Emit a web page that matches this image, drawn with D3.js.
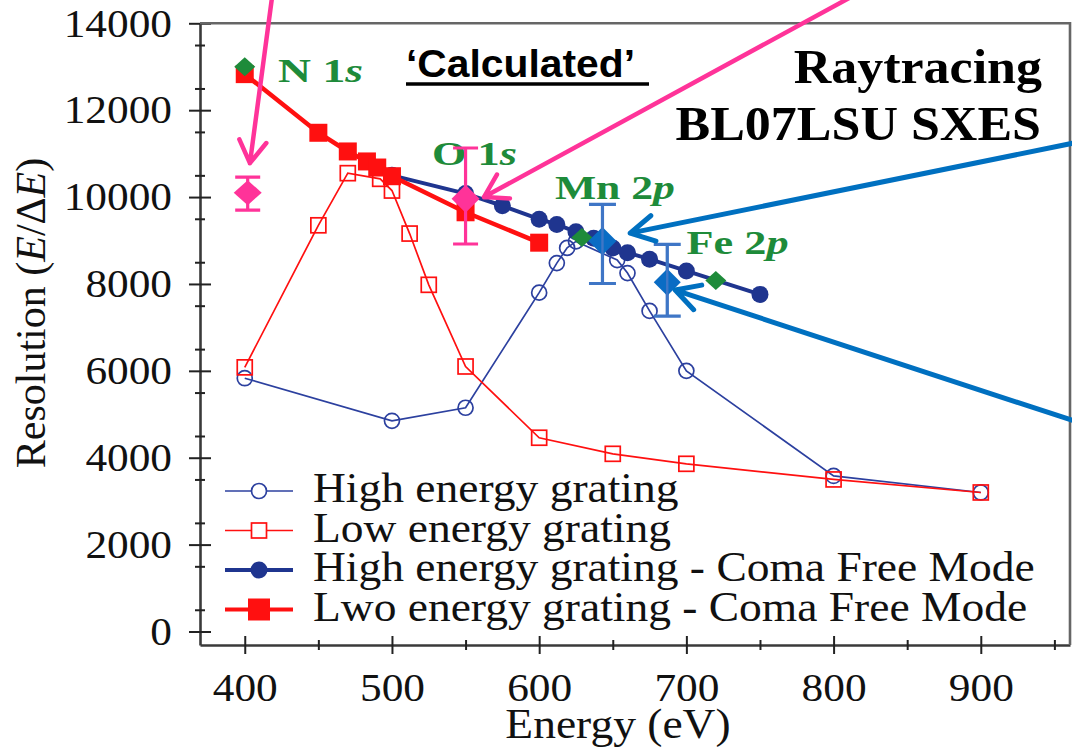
<!DOCTYPE html>
<html>
<head>
<meta charset="utf-8">
<script src="https://cdn.jsdelivr.net/npm/d3@7"></script>
<style>
  html, body { margin: 0; padding: 0; background: #fff; }
  svg { display: block; font-family: "Liberation Serif", "Times New Roman", Times, serif; }
</style>
</head>
<body>
<svg id="chart" width="1072" height="752"></svg>
<script>
// ---- data (energy in eV, resolution E/dE) ----
const highGratingE = [400, 500, 550, 600, 612, 619, 625, 653, 660, 675, 700, 800, 900];
const highGratingR = [5830, 4850, 5150, 7800, 8480, 8830, 8980, 8550, 8250, 7380, 6000, 3580, 3200];

const lowGratingE = [400, 450, 470, 492, 500, 512, 525, 550, 600, 650, 700, 800, 900];
const lowGratingR = [6080, 9350, 10550, 10420, 10150, 9160, 7980, 6100, 4460, 4090, 3860, 3500, 3200];

const highComaE = [500, 550, 575, 600, 612, 625, 637, 650, 660, 675, 700, 750];
const highComaR = [10500, 10080, 9800, 9490, 9370, 9200, 9050, 8830, 8720, 8570, 8300, 7760];

const lowComaE = [400, 450, 470, 483, 490, 500, 550, 600];
const lowComaR = [12830, 11480, 11050, 10820, 10680, 10480, 9650, 8950];

// calculated edges (green)
const edgeE = [400, 629, 720];
const edgeR = [13000, 9070, 8080];

// measured points with error bars
const measuredPinkE = [402, 550];
const measuredPinkR = [10100, 9960];
const measuredPinkLo = [9700, 8920];
const measuredPinkHi = [10460, 11130];

const measuredBlueE = [643, 687];
const measuredBlueR = [8990, 8040];
const measuredBlueLo = [8010, 7260];
const measuredBlueHi = [9830, 8910];

const xTicks = [400, 500, 600, 700, 800, 900];
const xMinorTicks = [450, 550, 650, 750, 850, 950];
const yTicks = [0, 2000, 4000, 6000, 8000, 10000, 12000, 14000];
const yMinorTicks = d3.range(500, 14000, 1000);

const legendLabels = [
  "High energy grating",
  "Low energy grating",
  "High energy grating - Coma Free Mode",
  "Lwo energy grating - Coma Free Mode"
];

// edge labels: [text, italic part, energy, resolution at baseline]
const edgeLabels = [
  ["N 1", "s", 422.6, 12660],
  ["O 1", "s", 527.2, 10740],
  ["Mn 2", "p", 610.7, 9950],
  ["Fe 2", "p", 700.1, 8700]
];
const edgeLabelWidths = [85, 85, 120, 102];

// arrows in data units: from -> to
const pinkArrows = [
  { from: [418.5, 14590], to: [403.5, 10780] },
  { from: [811, 14590], to: [562.5, 10000] }
];
const blueArrows = [
  { from: [964, 11250], to: [661.8, 9170] },
  { from: [964, 4840], to: [692.4, 7860] }
];

// ---- colours ----
const navyOpen = "#2c409f";
const navy = "#1f358f";
const red = "#ff1010";
const pink = "#ff3399";
const blue = "#0a6cc4";
const blueBar = "#3f76c6";
const green = "#1e8b3a";
const STRETCH = 1.083; // the figure is slightly wider than tall
const SERIF = "Liberation Serif, Times New Roman, Times, serif";

const svg = d3.select("#chart");

const x = d3.scaleLinear().domain([369.6, 960.6]).range([200, 1070]);
const y = d3.scaleLinear().domain([-311, 14000]).range([645, 23.3]);

const stretchText = (sel) =>
  sel.each(function () {
    const w = this.getComputedTextLength();
    d3.select(this).attr("textLength", w * STRETCH).attr("lengthAdjust", "spacingAndGlyphs");
  });

const zip = (es, rs) => es.map((e, i) => [e, rs[i]]);
const line = d3.line().x((d) => x(d[0])).y((d) => y(d[1]));
const diamond = (cx, cy, hw, hh) =>
  `M${cx},${cy - hh}L${cx + hw},${cy}L${cx},${cy + hh}L${cx - hw},${cy}Z`;

// ---- axes ----
const yAxis = svg.append("g").attr("transform", "translate(200,0)")
  .call(d3.axisLeft(y).tickValues(yTicks).tickFormat(d3.format("d"))
    .tickSize(11).tickSizeOuter(0).tickPadding(17));
const yMinor = svg.append("g").attr("transform", "translate(200,0)")
  .call(d3.axisLeft(y).tickValues(yMinorTicks).tickSize(5).tickSizeOuter(0).tickFormat(""));
const xAxis = svg.append("g").attr("transform", "translate(0,645)")
  .call(d3.axisBottom(x).tickValues(xTicks).tickFormat(d3.format("d"))
    .tickSize(9).tickSizeOuter(0).tickPadding(19));
const xMinor = svg.append("g").attr("transform", "translate(0,645)")
  .call(d3.axisBottom(x).tickValues(xMinorTicks).tickSize(5).tickSizeOuter(0).tickFormat(""));

yAxis.selectAll(".tick line").attr("x1", 11);
yMinor.selectAll(".tick line").attr("x1", 5);
xAxis.selectAll(".tick line").attr("y1", -9);
xMinor.selectAll(".tick line").attr("y1", -5);

[yAxis, yMinor, xAxis, xMinor].forEach((g) => {
  g.attr("font-family", SERIF);
  g.selectAll("path.domain").attr("stroke", "#3a3a3a").attr("stroke-width", 2.6);
  g.selectAll(".tick line").attr("stroke", "#222").attr("stroke-width", 2);
  g.selectAll(".tick text")
    .attr("font-size", 40)
    .attr("fill", "#111")
    .call(stretchText);
});
yMinor.select("path.domain").remove();
xMinor.select("path.domain").remove();

// frame (top and right)
svg.append("path")
  .attr("d", `M200,${y(14000)}H${x(960.6)}V645`)
  .attr("fill", "none")
  .attr("stroke", "#666")
  .attr("stroke-width", 2.6);

// axis titles
svg.append("text")
  .attr("x", 618).attr("y", 738)
  .attr("text-anchor", "middle")
  .attr("font-size", 42)
  .attr("fill", "#111")
  .text("Energy (eV)")
  .call(stretchText);

const yTitle = svg.append("text")
  .attr("transform", "translate(45,313) rotate(-90)")
  .attr("text-anchor", "middle")
  .attr("font-size", 42)
  .attr("fill", "#111");
yTitle.append("tspan").text("Resolution (");
yTitle.append("tspan").attr("font-style", "italic").text("E");
yTitle.append("tspan").text("/\u0394");
yTitle.append("tspan").attr("font-style", "italic").text("E");
yTitle.append("tspan").text(")");

// ---- open series ----
const highGrating = zip(highGratingE, highGratingR);
const lowGrating = zip(lowGratingE, lowGratingR);
const highComa = zip(highComaE, highComaR);
const lowComa = zip(lowComaE, lowComaR);

svg.append("path").attr("d", line(highGrating))
  .attr("fill", "none").attr("stroke", navyOpen).attr("stroke-width", 1.7);
svg.append("g").selectAll("circle").data(highGrating).join("circle")
  .attr("cx", (d) => x(d[0])).attr("cy", (d) => y(d[1])).attr("r", 7.5)
  .attr("fill", "none").attr("stroke", navyOpen).attr("stroke-width", 1.7);

svg.append("path").attr("d", line(lowGrating))
  .attr("fill", "none").attr("stroke", red).attr("stroke-width", 1.7);
svg.append("g").selectAll("rect").data(lowGrating).join("rect")
  .attr("x", (d) => x(d[0]) - 7.5).attr("y", (d) => y(d[1]) - 7.5)
  .attr("width", 15).attr("height", 15)
  .attr("fill", "none").attr("stroke", red).attr("stroke-width", 1.7);

// ---- coma free series ----
svg.append("path").attr("d", line(highComa))
  .attr("fill", "none").attr("stroke", navy).attr("stroke-width", 4);
svg.append("g").selectAll("circle").data(highComa).join("circle")
  .attr("cx", (d) => x(d[0])).attr("cy", (d) => y(d[1])).attr("r", 8.5)
  .attr("fill", navy);

svg.append("path").attr("d", line(lowComa))
  .attr("fill", "none").attr("stroke", red).attr("stroke-width", 4.5);
svg.append("g").selectAll("rect").data(lowComa).join("rect")
  .attr("x", (d) => x(d[0]) - 9).attr("y", (d) => y(d[1]) - 9)
  .attr("width", 18).attr("height", 18)
  .attr("fill", red);

// green calculated edges
svg.append("g").selectAll("path").data(zip(edgeE, edgeR)).join("path")
  .attr("d", (d) => diamond(x(d[0]), y(d[1]), 10.5, 9.5))
  .attr("fill", green);

// edge labels
edgeLabels.forEach(([main, ital, e, r], i) => {
  const t = svg.append("text")
    .attr("x", x(e)).attr("y", y(r))
    .attr("font-size", 33).attr("font-weight", "bold").attr("fill", green)
    .attr("textLength", edgeLabelWidths[i]).attr("lengthAdjust", "spacingAndGlyphs");
  t.append("tspan").text(main);
  t.append("tspan").attr("font-style", "italic").text(ital);
});

// ---- measured points with error bars ----
function errorPoints(es, rs, lo, hi, color, barColor, cap, hw, hh) {
  const g = svg.append("g");
  es.forEach((e, i) => {
    const cx = x(e);
    g.append("path")
      .attr("d", `M${cx},${y(lo[i])}V${y(hi[i])}M${cx - cap / 2},${y(lo[i])}h${cap}M${cx - cap / 2},${y(hi[i])}h${cap}`)
      .attr("fill", "none").attr("stroke", barColor).attr("stroke-width", 3.2);
    g.append("path")
      .attr("d", diamond(cx, y(rs[i]), hw[i], hh[i]))
      .attr("fill", color);
  });
}
errorPoints(measuredPinkE, measuredPinkR, measuredPinkLo, measuredPinkHi, pink, pink, 25, [14, 14], [12.5, 14]);
errorPoints(measuredBlueE, measuredBlueR, measuredBlueLo, measuredBlueHi, blue, blueBar, 27, [14, 13.5], [14, 13.5]);
// the blue bars show through their diamonds in the figure
measuredBlueE.forEach((e, i) => {
  svg.append("line")
    .attr("x1", x(e)).attr("x2", x(e))
    .attr("y1", y(measuredBlueLo[i])).attr("y2", y(measuredBlueHi[i]))
    .attr("stroke", blueBar).attr("stroke-width", 2.4);
});

// ---- arrows ----
function drawArrow(a, color, width, L, theta) {
  const x0 = x(a.from[0]), y0 = y(a.from[1]);
  const x1 = x(a.to[0]), y1 = y(a.to[1]);
  const ang = Math.atan2(y0 - y1, x0 - x1);
  const w1 = [x1 + L * Math.cos(ang + theta), y1 + L * Math.sin(ang + theta)];
  const w2 = [x1 + L * Math.cos(ang - theta), y1 + L * Math.sin(ang - theta)];
  svg.append("path")
    .attr("d", `M${x0},${y0}L${x1},${y1}M${w1[0]},${w1[1]}L${x1},${y1}L${w2[0]},${w2[1]}`)
    .attr("fill", "none").attr("stroke", color).attr("stroke-width", width)
    .attr("stroke-linecap", "round").attr("stroke-linejoin", "round");
}
pinkArrows.forEach((a) => drawArrow(a, pink, 4.5, 26, 0.55));
blueArrows.forEach((a) => drawArrow(a, "#0070c0", 5, 27, 0.5));

// ---- headline texts ----
svg.append("text")
  .attr("x", 406).attr("y", 77)
  .attr("font-family", "Liberation Sans Narrow, Liberation Sans, sans-serif")
  .attr("font-size", 38).attr("font-weight", "bold").attr("fill", "#000")
  .attr("textLength", 229).attr("lengthAdjust", "spacingAndGlyphs")
  .text("\u2018Calculated\u2019");
svg.append("line")
  .attr("x1", 406).attr("x2", 649).attr("y1", 84).attr("y2", 84)
  .attr("stroke", "#000").attr("stroke-width", 3.5);

svg.append("text")
  .attr("x", 1042).attr("y", 83)
  .attr("text-anchor", "end")
  .attr("font-size", 48).attr("font-weight", "bold").attr("fill", "#000")
  .text("Raytracing")
  .call(stretchText);
svg.append("text")
  .attr("x", 1041).attr("y", 140)
  .attr("text-anchor", "end")
  .attr("font-size", 48).attr("font-weight", "bold").attr("fill", "#000")
  .text("BL07LSU SXES")
  .call(stretchText);

// ---- legend ----
const legendRowY = [491, 530.5, 570, 609.5];
const legend = svg.append("g");
legendLabels.forEach((label, i) => {
  const cy = legendRowY[i];
  const row = legend.append("g");
  const coma = i >= 2;
  const color = i % 2 === 0 ? (coma ? navy : navyOpen) : red;
  row.append("line")
    .attr("x1", 225).attr("x2", 293).attr("y1", cy).attr("y2", cy)
    .attr("stroke", color).attr("stroke-width", coma ? 4 : 1.7);
  if (i === 0) {
    row.append("circle").attr("cx", 259).attr("cy", cy).attr("r", 7.5)
      .attr("fill", "#fff").attr("stroke", color).attr("stroke-width", 1.7);
  } else if (i === 1) {
    row.append("rect").attr("x", 251.5).attr("y", cy - 7.5).attr("width", 15).attr("height", 15)
      .attr("fill", "#fff").attr("stroke", color).attr("stroke-width", 1.7);
  } else if (i === 2) {
    row.append("circle").attr("cx", 259).attr("cy", cy).attr("r", 8.5).attr("fill", color);
  } else {
    row.append("rect").attr("x", 248).attr("y", cy - 11).attr("width", 22).attr("height", 22)
      .attr("fill", color);
  }
  row.append("text")
    .attr("x", 313).attr("y", cy + 11)
    .attr("font-size", 42).attr("fill", "#111")
    .text(label)
    .call(stretchText);
});
</script>
</body>
</html>
